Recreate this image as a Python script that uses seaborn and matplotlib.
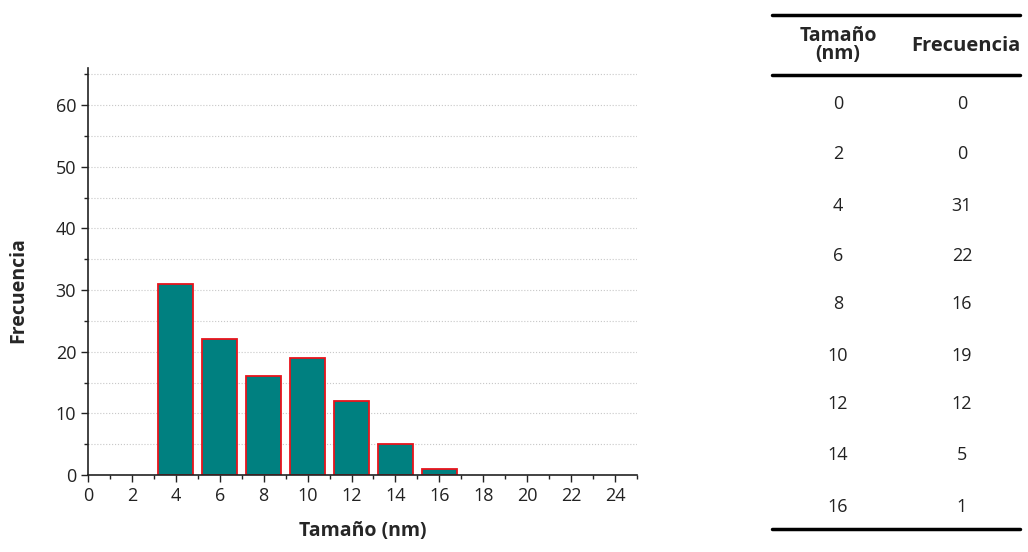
import pandas as pd
import matplotlib.pyplot as plt
import seaborn as sns
from matplotlib.ticker import MultipleLocator
from matplotlib.lines import Line2D

# data
tamano = [0, 2, 4, 6, 8, 10, 12, 14, 16]
frecuencia = [0, 0, 31, 22, 16, 19, 12, 5, 1]
tabla_headers = ['Tamaño\n(nm)', 'Frecuencia']

data = pd.DataFrame({'Tamano': tamano, 'Frecuencia': frecuencia})

sns.set_style('white')
plt.rcParams['font.family'] = ['Open Sans', 'DejaVu Sans']

W, H = 1028, 552
fig = plt.figure(figsize=(W / 100, H / 100), dpi=100)
ax = fig.add_axes([88 / W, 1 - 475 / H, (637 - 88) / W, (475 - 68) / H])

# histogram bars
sns.barplot(data=data[data['Frecuencia'] > 0], x='Tamano', y='Frecuencia',
            native_scale=True, width=0.8, color='#008080',
            edgecolor='#e8141c', linewidth=1.3, saturation=1, ax=ax)

ax.set_xlim(0, 25)
ax.set_ylim(0, 66)
ax.xaxis.set_major_locator(MultipleLocator(2))
ax.xaxis.set_minor_locator(MultipleLocator(1))
ax.yaxis.set_major_locator(MultipleLocator(10))
ax.yaxis.set_minor_locator(MultipleLocator(5))
ax.set_xticks(range(0, 25, 2))
ax.tick_params(which='major', direction='out', length=5, width=1, labelsize=13,
               bottom=True, left=True, colors='#222222')
ax.tick_params(which='minor', direction='out', length=3, width=1,
               bottom=True, left=True, colors='#222222')
ax.grid(True, which='both', axis='y', linestyle=':', color='#c8c8c8', linewidth=0.8)
ax.set_axisbelow(True)
sns.despine(ax=ax)
for s in ['left', 'bottom']:
    ax.spines[s].set_color('#222222')
    ax.spines[s].set_linewidth(1.2)

ax.set_xlabel('Tamaño (nm)', fontsize=14, fontweight='bold', labelpad=12)
ax.set_ylabel('')
fig.text(18 / W, 1 - 290 / H, 'Frecuencia', rotation=90, ha='center', va='center',
         fontsize=14, fontweight='bold')

# table on the right
tx = fig.add_axes([772 / W, 1 - 529 / H, (1020 - 772) / W, (529 - 15) / H])
tx.set_xlim(772, 1020)
tx.set_ylim(529, 15)
tx.axis('off')
for yy in [15, 75, 529]:
    tx.add_line(Line2D([772, 1020], [yy, yy], color='black', lw=2.5, clip_on=False))
col_x = [838, 962]
tx.text(col_x[0], 45, tabla_headers[0], ha='center', va='center', fontsize=14,
        fontweight='bold', linespacing=0.85)
tx.text(col_x[1] + 4, 46, tabla_headers[1], ha='center', va='center', fontsize=14.5,
        fontweight='bold')
row_y = [104, 154, 206, 256, 304, 356, 404, 455, 507]
for yy, t, f in zip(row_y, tamano, frecuencia):
    tx.text(col_x[0], yy, str(t), ha='center', va='center', fontsize=13, color='#222222')
    tx.text(col_x[1], yy, str(f), ha='center', va='center', fontsize=13, color='#222222')

fig.savefig('out.png', dpi=100)
